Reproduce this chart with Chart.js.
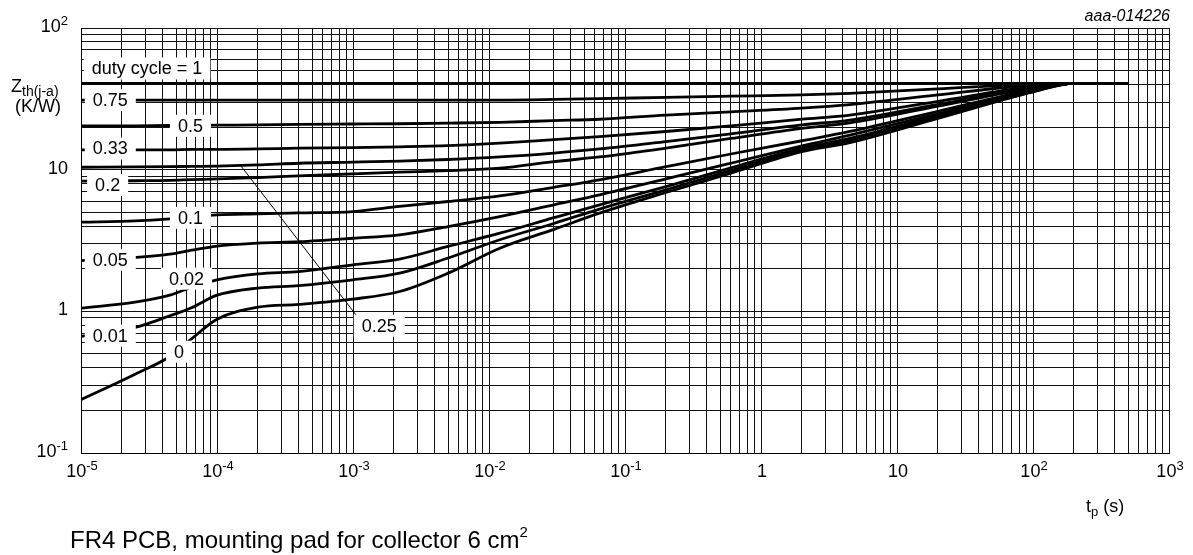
<!DOCTYPE html>
<html>
<head>
<meta charset="utf-8">
<script src="https://cdn.jsdelivr.net/npm/chart.js@4.4.1/dist/chart.umd.min.js"></script>
<style>
html,body{margin:0;padding:0;background:#fff;}
canvas{display:block;}
</style>
</head>
<body>
<canvas id="c" width="1193" height="555"></canvas>
<script>
// pulse duration t_p (s)
const tp = [1e-5, 2.5e-5, 4.5e-5, 6.5e-5, 1e-4, 2e-4, 4e-4, 1e-3, 2.2e-3, 5e-3, 1.2e-2, 3e-2, 6.5e-2, 0.2, 0.6, 2, 4.5, 20, 100, 200, 500];
// Zth(j-a) (K/W) per duty cycle
const zDuty1    = [40.7,40.7,40.7,40.7,40.7,40.7,40.7,40.7,40.7,40.7,40.7,40.7,40.7,40.7,40.7,40.7,40.7,40.7,40.7,40.7,40.7];
const zDuty075  = [31.0,31.0,31.0,31.0,31.0,31.0,31.0,31.0,31.0,31.0,31.0,31.3,31.7,32.4,33.0,33.7,34.6,37.2,40.2,40.7,40.7];
const zDuty05   = [20.4,20.4,20.5,20.5,20.6,20.7,20.9,21.0,21.1,21.3,21.6,22.2,22.7,24.3,25.6,27.2,28.8,33.7,39.6,40.7,40.7];
const zDuty033  = [13.8,13.8,13.8,13.9,13.9,14.0,14.2,14.3,14.5,14.8,15.4,16.3,17.1,18.6,20.4,22.7,24.3,30.4,38.7,40.7,40.7];
const zDuty025  = [10.4,10.45,10.5,10.55,10.6,10.8,11.1,11.3,11.5,11.8,12.3,13.1,14.0,15.8,17.9,20.7,22.4,28.9,38.0,40.7,40.7];
const zDuty02   = [8.3,8.35,8.4,8.5,8.6,8.8,9.04,9.33,9.6,9.85,10.25,11.4,12.3,14.2,16.6,19.6,21.4,28.1,37.7,40.7,40.7];
const zDuty01   = [4.26,4.35,4.5,4.65,4.8,4.88,4.95,5.06,5.5,5.96,6.53,7.5,8.47,10.5,12.9,16.0,18.6,25.8,36.8,40.7,40.7];
const zDuty005  = [2.28,2.4,2.53,2.7,2.89,3.03,3.10,3.28,3.47,3.97,4.67,5.65,6.64,8.6,11.1,14.7,17.5,24.8,36.2,40.7,40.7];
const zDuty002  = [1.055,1.16,1.3,1.48,1.67,1.84,1.91,2.13,2.34,2.87,3.56,4.58,5.65,7.6,10.3,14.2,16.6,24.1,35.9,40.7,40.7];
const zDuty001  = [0.665,0.77,0.93,1.06,1.3,1.46,1.52,1.67,1.86,2.38,3.2,4.17,5.27,7.2,9.85,13.8,16.1,23.6,35.6,40.7,40.7];
const zDuty0    = [0.238,0.36,0.48,0.64,0.88,1.07,1.12,1.22,1.38,1.86,2.79,3.79,4.93,6.9,9.45,13.4,15.5,23.0,35.4,40.7,40.7];

// leader line for the 0.25 label
const leaderT = [1.48e-4, 1.12e-3];
const leaderZ = [10.8, 0.873];

// curve labels (left edge of text, vertical centre) in data units
const labelText = ['duty cycle = 1', '0.75', '0.5', '0.33', '0.2', '0.1', '0.05', '0.02', '0.01', '0', '0.25'];
const labelT    = [1.2e-5, 1.22e-5, 5.16e-5, 1.22e-5, 1.27e-5, 5.16e-5, 1.22e-5, 4.44e-5, 1.22e-5, 4.83e-5, 1.16e-3];
const labelZ    = [51.8, 31.0, 20.4, 14.1, 7.8, 4.57, 2.31, 1.70, 0.673, 0.519, 0.791];

// axis decades and tick labels
const xDecades = [1e-5, 1e-4, 1e-3, 1e-2, 1e-1, 1, 10, 100, 1000];
const xTickBase = ['10', '10', '10', '10', '10', '1', '10', '10', '10'];
const xTickExp  = ['-5', '-4', '-3', '-2', '-1', '', '', '2', '3'];
const yDecades = [0.1, 1, 10, 100];
const yTickBase = ['10', '1', '10', '10'];
const yTickExp  = ['-1', '', '', '2'];

const FONT = '"Liberation Sans", Arial, Helvetica, sans-serif';

function gridValues(decades) {
  const out = [];
  for (let i = 0; i < decades.length - 1; i++) {
    for (let k = 1; k <= 9; k++) out.push(decades[i] * k);
  }
  out.push(decades[decades.length - 1]);
  return out;
}

function series(z) {
  return tp.map((t, i) => ({ x: t, y: z[i] }));
}

const curveSets = [zDuty1, zDuty075, zDuty05, zDuty033, zDuty025, zDuty02, zDuty01, zDuty005, zDuty002, zDuty001, zDuty0];

const datasets = curveSets.map(z => ({
  data: series(z),
  borderColor: '#000',
  borderWidth: 2.8,
  pointRadius: 0,
  cubicInterpolationMode: 'monotone',
  fill: false
}));
datasets.push({
  data: leaderT.map((t, i) => ({ x: t, y: leaderZ[i] })),
  borderColor: '#000',
  borderWidth: 1,
  pointRadius: 0,
  tension: 0,
  fill: false
});

function drawPow(ctx, base, exp, x, y, align) {
  ctx.font = '18px ' + FONT;
  const wb = ctx.measureText(base).width;
  ctx.font = '13px ' + FONT;
  const we = exp ? ctx.measureText(exp).width : 0;
  const total = wb + we;
  let left = x;
  if (align === 'right') left = x - total;
  else if (align === 'center') left = x - total / 2;
  ctx.textAlign = 'left';
  ctx.textBaseline = 'middle';
  ctx.font = '18px ' + FONT;
  ctx.fillText(base, left, y);
  if (exp) {
    ctx.font = '13px ' + FONT;
    ctx.fillText(exp, left + wb, y - 6);
  }
}

const annot = {
  id: 'annot',
  afterDatasetsDraw(chart) {
    const ctx = chart.ctx;
    const xs = chart.scales.x, ys = chart.scales.y;
    ctx.save();
    ctx.font = '18px ' + FONT;
    ctx.textBaseline = 'middle';
    ctx.textAlign = 'left';
    labelText.forEach((txt, i) => {
      const px = xs.getPixelForValue(labelT[i]);
      const py = ys.getPixelForValue(labelZ[i]);
      const w = ctx.measureText(txt).width;
      ctx.fillStyle = '#fff';
      ctx.fillRect(px - 8, py - 11, w + 16, 22);
      ctx.fillStyle = '#000';
      ctx.fillText(txt, px, py + 1);
    });
    ctx.restore();
  },
  afterDraw(chart) {
    const ctx = chart.ctx;
    const xs = chart.scales.x, ys = chart.scales.y;
    const area = chart.chartArea;
    ctx.save();
    ctx.fillStyle = '#000';
    // y tick labels
    yDecades.forEach((v, i) => {
      drawPow(ctx, yTickBase[i], yTickExp[i], area.left - 13, ys.getPixelForValue(v) - 1, 'right');
    });
    // x tick labels
    xDecades.forEach((v, i) => {
      drawPow(ctx, xTickBase[i], xTickExp[i], xs.getPixelForValue(v) + 1, area.bottom + 19, 'center');
    });
    // y axis title
    ctx.textAlign = 'left';
    ctx.textBaseline = 'alphabetic';
    ctx.font = '18px ' + FONT;
    ctx.fillText('Z', 11, 92);
    const wz = ctx.measureText('Z').width;
    ctx.font = '14px ' + FONT;
    ctx.fillText('th(j-a)', 11 + wz, 96);
    ctx.font = '18px ' + FONT;
    ctx.textAlign = 'center';
    ctx.fillText('(K/W)', 38, 112);
    // x axis title
    ctx.textAlign = 'left';
    ctx.font = '18px ' + FONT;
    let xx = 1086;
    ctx.fillText('t', xx, 512);
    xx += ctx.measureText('t').width;
    ctx.font = '13px ' + FONT;
    ctx.fillText('p', xx, 516);
    xx += ctx.measureText('p').width;
    ctx.font = '18px ' + FONT;
    ctx.fillText(' (s)', xx, 512);
    // figure code
    ctx.font = 'italic 16px ' + FONT;
    ctx.textAlign = 'right';
    ctx.fillText('aaa-014226', area.right + 1, 21);
    // footer
    ctx.textAlign = 'left';
    ctx.font = '24px ' + FONT;
    const foot = 'FR4 PCB, mounting pad for collector 6 cm';
    ctx.fillText(foot, 70, 548);
    const wf = ctx.measureText(foot).width;
    ctx.font = '15px ' + FONT;
    ctx.fillText('2', 70 + wf, 537);
    ctx.restore();
  }
};

const gridOpts = { color: '#111', lineWidth: 1, drawTicks: false };
const borderOpts = { color: '#000', width: 1 };

new Chart(document.getElementById('c'), {
  type: 'line',
  data: { datasets },
  options: {
    responsive: false,
    animation: false,
    parsing: true,
    layout: { padding: { left: 81, right: 24, top: 28, bottom: 102 } },
    plugins: { legend: { display: false }, tooltip: { enabled: false } },
    scales: {
      x: {
        type: 'logarithmic',
        min: xDecades[0],
        max: xDecades[xDecades.length - 1],
        grid: gridOpts,
        border: borderOpts,
        ticks: { display: false },
        afterBuildTicks: (axis) => { axis.ticks = gridValues(xDecades).map(v => ({ value: v })); }
      },
      y: {
        type: 'logarithmic',
        min: yDecades[0],
        max: yDecades[yDecades.length - 1],
        grid: gridOpts,
        border: borderOpts,
        ticks: { display: false },
        afterBuildTicks: (axis) => { axis.ticks = gridValues(yDecades).map(v => ({ value: v })); }
      }
    }
  },
  plugins: [annot]
});
</script>
</body>
</html>
